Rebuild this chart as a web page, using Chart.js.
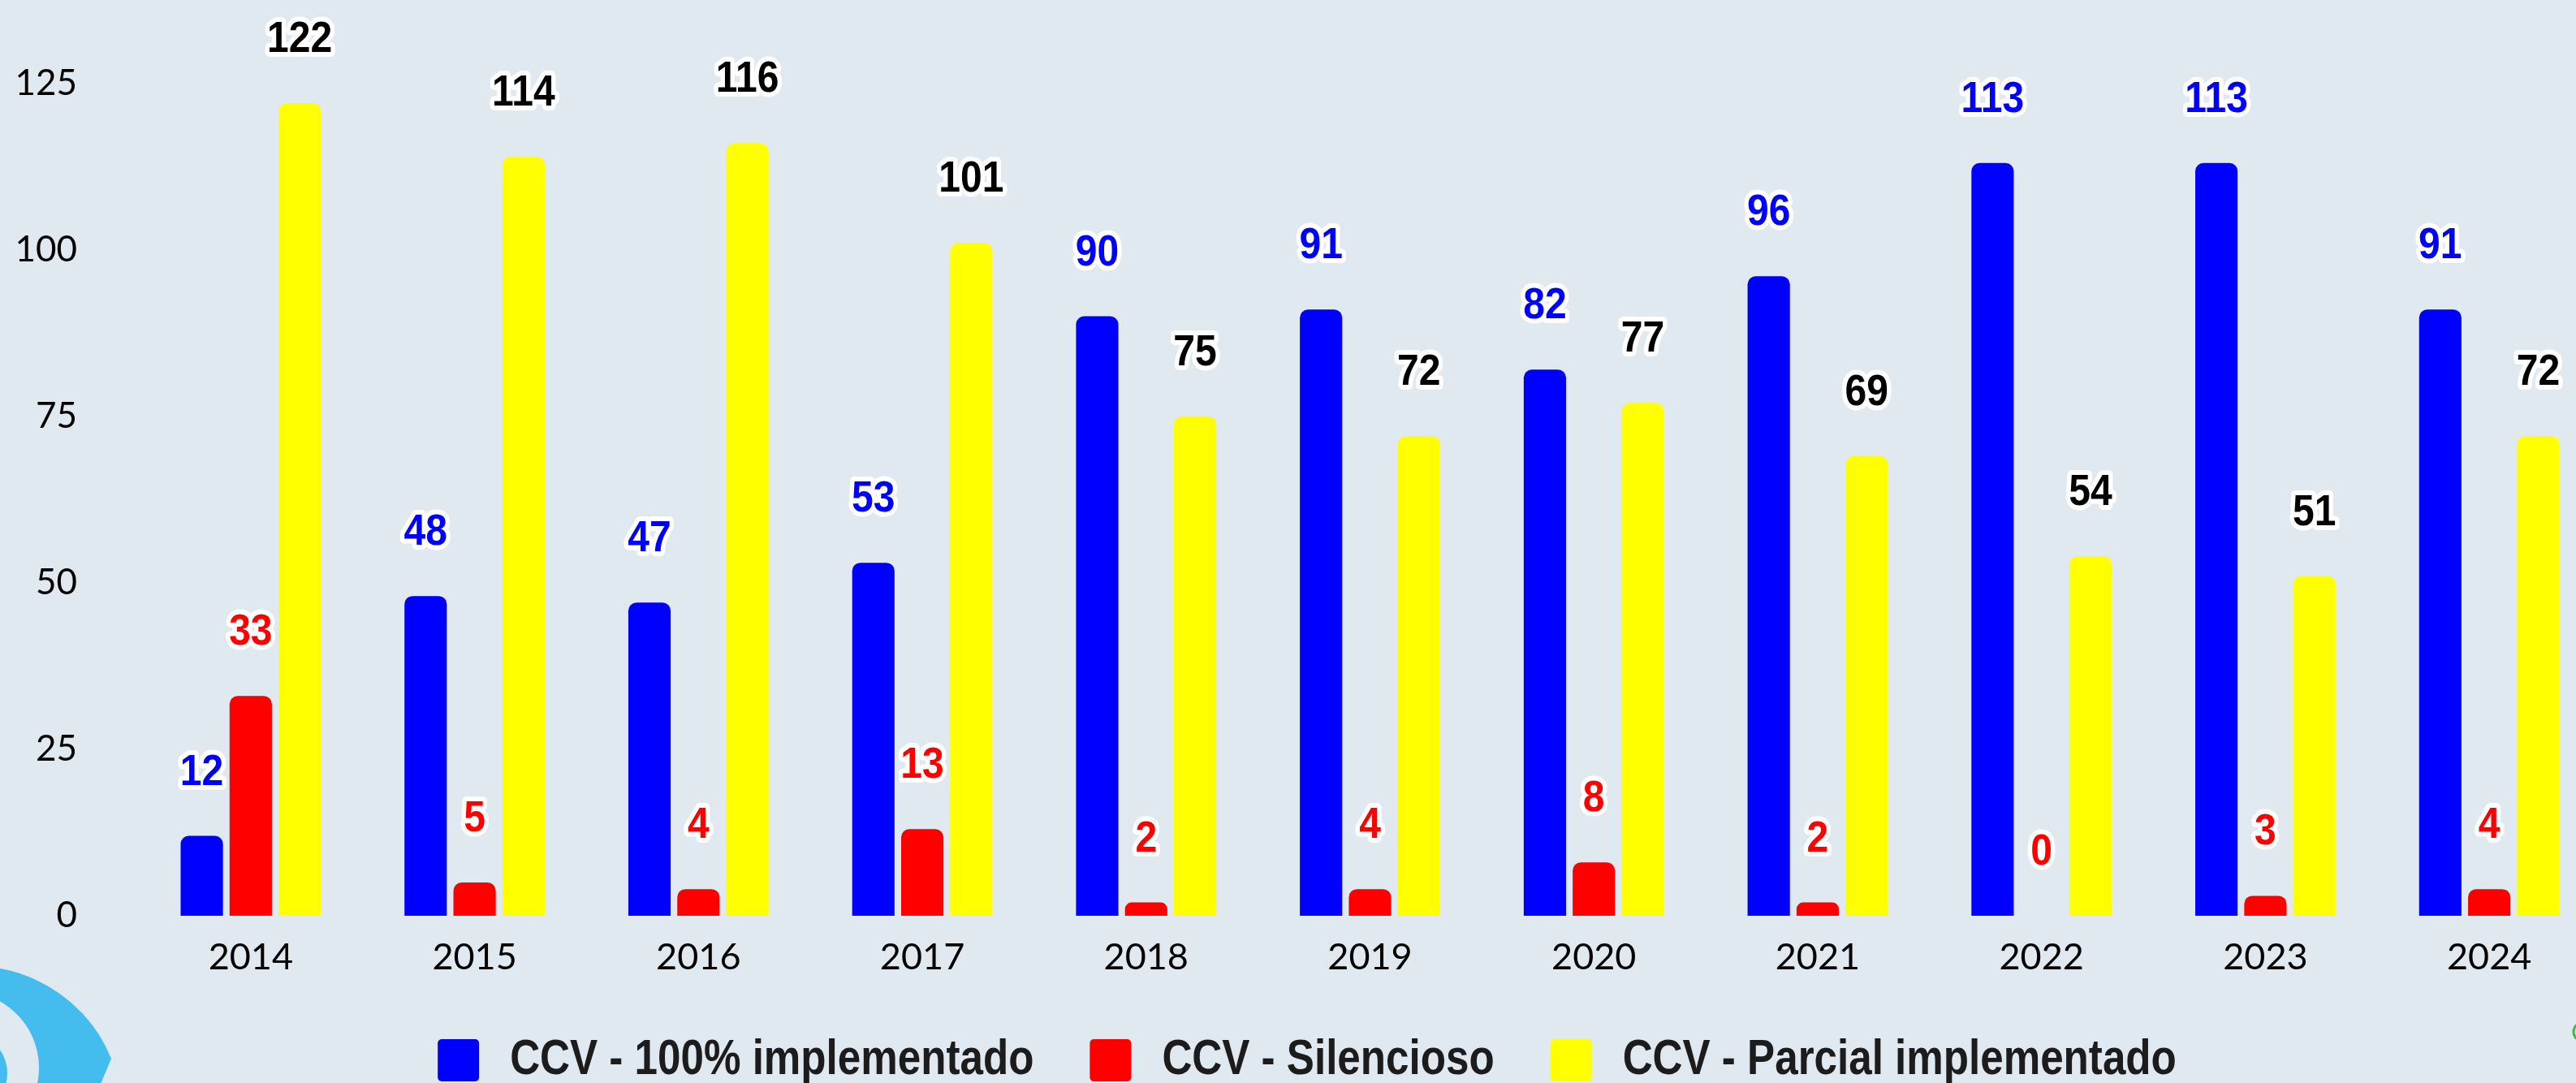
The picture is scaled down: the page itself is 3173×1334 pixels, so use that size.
<!DOCTYPE html>
<html>
<head>
<meta charset="utf-8">
<script src="https://cdn.jsdelivr.net/npm/chart.js@4/dist/chart.umd.min.js"></script>
<style>
  html, body { margin: 0; padding: 0; background: #e0e9f0; overflow: hidden; width: 3173px; height: 1334px; }
  #wrap { position: absolute; left: 0; top: 0; width: 3204px; height: 1334px; }
  canvas { display: block; }
</style>
</head>
<body>
<div id="wrap"><canvas id="c" width="3204" height="1334"></canvas></div>
<script>
const years = ['2014','2015','2016','2017','2018','2019','2020','2021','2022','2023','2024'];
const seriesNames = ['CCV - 100% implementado', 'CCV - Silencioso', 'CCV - Parcial implementado'];
const implementado100 = [12, 48, 47, 53, 90, 91, 82, 96, 113, 113, 91];
const silencioso = [33, 5, 4, 13, 2, 4, 8, 2, 0, 3, 4];
const parcial = [122, 114, 116, 101, 75, 72, 77, 69, 54, 51, 72];
const yTicks = [0, 25, 50, 75, 100, 125];

const barColors = ['#0000ff', '#ff0000', '#ffff00'];
const labelColors = ['#0000ff', '#ff0000', '#000000'];

const bgPlugin = {
  id: 'bg',
  beforeDraw(chart) {
    const ctx = chart.ctx;
    ctx.save();
    ctx.fillStyle = '#e0e9f0';
    ctx.fillRect(0, 0, chart.width, chart.height);
    // decorative logo fragment bottom-left
    ctx.fillStyle = '#44bdee';
    ctx.beginPath();
    ctx.moveTo(0, 1193);
    ctx.bezierCurveTo(45, 1200, 110, 1235, 137, 1304);
    ctx.lineTo(122, 1340);
    ctx.lineTo(0, 1340);
    ctx.closePath();
    ctx.moveTo(48, 1340);
    ctx.arc(-45, 1315, 93, Math.atan2(25, 93), -Math.PI / 2, true);
    ctx.lineTo(-45, 1340);
    ctx.closePath();
    ctx.fill('evenodd');
    ctx.beginPath();
    ctx.arc(-41, 1322, 50, 0, Math.PI * 2);
    ctx.fill();
    // small green mark at right edge
    ctx.strokeStyle = '#3cb54a';
    ctx.lineWidth = 3;
    ctx.beginPath();
    ctx.arc(3181, 1271, 11, Math.PI * 0.6, Math.PI * 1.4);
    ctx.stroke();
    ctx.restore();
  }
};

const valueLabels = {
  id: 'valueLabels',
  afterDatasetsDraw(chart) {
    const ctx = chart.ctx;
    const sx = 0.89;
    chart.data.datasets.forEach((ds, di) => {
      const meta = chart.getDatasetMeta(di);
      meta.data.forEach((el, i) => {
        const txt = String(ds.data[i]);
        ctx.save();
        ctx.translate(el.x, el.y - 63);
        ctx.scale(sx, 1);
        ctx.font = 'bold 54px "Liberation Sans", Arial, sans-serif';
        ctx.textAlign = 'center';
        ctx.textBaseline = 'alphabetic';
        ctx.lineJoin = 'round';
        ctx.strokeStyle = '#ffffff';
        ctx.lineWidth = 12;
        ctx.strokeText(txt, 0, 0);
        ctx.fillStyle = labelColors[di];
        ctx.fillText(txt, 0, 0);
        ctx.restore();
      });
    });
  }
};

const customLegend = {
  id: 'customLegend',
  afterDraw(chart) {
    const ctx = chart.ctx;
    const sx = 0.825;
    const font = 'bold 62px "Liberation Sans", Arial, sans-serif';
    const boxW = 51, boxH = 52, boxGap = 38, itemGap = 69;
    const boxTop = 1280, textY = 1306, centerX = 1610;
    ctx.save();
    ctx.font = font;
    const items = chart.data.datasets.map(ds => ({
      text: ds.label,
      color: ds.backgroundColor,
      w: ctx.measureText(ds.label).width * sx
    }));
    let total = 0;
    items.forEach((it, i) => { total += boxW + boxGap + it.w + (i < items.length - 1 ? itemGap : 0); });
    let x = centerX - total / 2;
    items.forEach(it => {
      ctx.fillStyle = it.color;
      ctx.beginPath();
      ctx.roundRect(x, boxTop, boxW, boxH, 5);
      ctx.fill();
      x += boxW + boxGap;
      ctx.save();
      ctx.translate(x, textY);
      ctx.scale(sx, 1);
      ctx.font = font;
      ctx.textAlign = 'left';
      ctx.textBaseline = 'middle';
      ctx.fillStyle = '#1c1c1c';
      ctx.fillText(it.text, 0, 0);
      ctx.restore();
      x += it.w + itemGap;
    });
    ctx.restore();
  }
};

const datasets = [implementado100, silencioso, parcial].map((d, i) => ({
  label: seriesNames[i],
  data: d,
  backgroundColor: barColors[i],
  borderWidth: 0,
  borderRadius: 10,
  borderSkipped: 'start',
  categoryPercentage: 0.656,
  barPercentage: 0.865
}));

Chart.defaults.font.family = 'Lato, "Open Sans", sans-serif';
Chart.defaults.color = '#000000';

new Chart(document.getElementById('c'), {
  type: 'bar',
  data: { labels: years, datasets },
  options: {
    responsive: false,
    animation: false,
    devicePixelRatio: 1,
    layout: { padding: { top: 90, left: 0, right: 0, bottom: 134 } },
    plugins: {
      tooltip: { enabled: false },
      legend: { display: false }
    },
    scales: {
      x: {
        grid: { display: false, drawTicks: false },
        border: { display: false },
        ticks: { padding: 24, font: { size: 45 }, color: '#000' },
        afterFit(scale) { scale.height = 72; }
      },
      y: {
        min: 0,
        max: 125,
        afterBuildTicks(scale) { scale.ticks = yTicks.map(v => ({ value: v })); },
        grid: { display: false, drawTicks: false },
        border: { display: false },
        ticks: { padding: 76, font: { size: 44 }, color: '#000' },
        afterFit(scale) { scale.width = 171; }
      }
    }
  },
  plugins: [bgPlugin, valueLabels, customLegend]
});
</script>
</body>
</html>
